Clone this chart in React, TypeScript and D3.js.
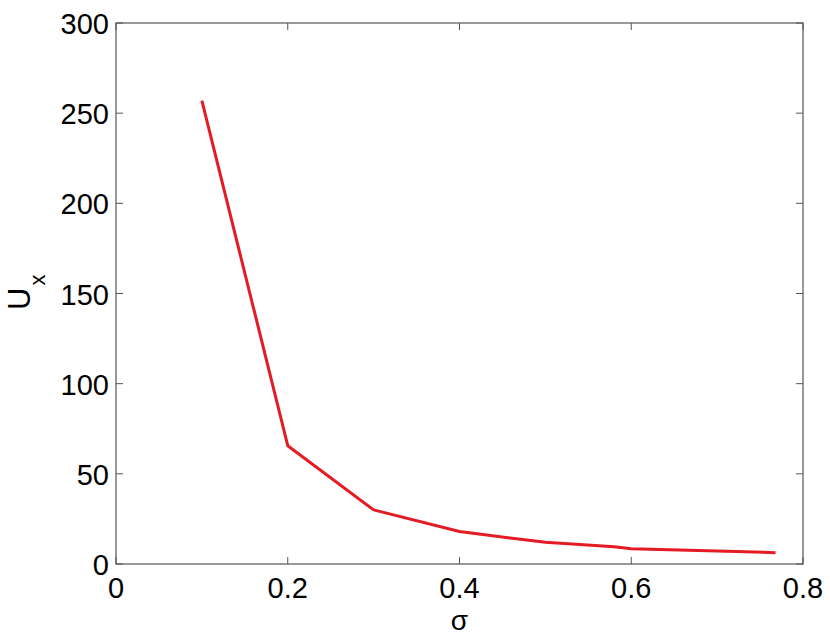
import React, { useRef, useEffect } from 'react';
import * as d3 from 'd3';

// sigma values and the matching U_x readings
const sigma = [0.1, 0.2, 0.3, 0.4, 0.5, 0.58, 0.6, 0.7, 0.768];
const ux = [257, 65.6, 30, 18, 12, 9.6, 8.4, 7.2, 6.3];
const xTicks = [0, 0.2, 0.4, 0.6, 0.8];
const yTicks = [0, 50, 100, 150, 200, 250, 300];

const width = 830;
const height = 639;
const margin = { top: 23, right: 27, bottom: 75, left: 116 };
const font = 'Helvetica, "Liberation Sans", Arial, sans-serif';
const axisColor = '#555';
const tickLen = 7;

const App = () => {
  const ref = useRef<SVGSVGElement | null>(null);

  useEffect(() => {
    const svg = d3.select(ref.current);
    svg.selectAll('*').remove();

    const x = d3
      .scaleLinear()
      .domain([0, 0.8])
      .range([margin.left, width - margin.right]);
    const y = d3
      .scaleLinear()
      .domain([0, 300])
      .range([height - margin.bottom, margin.top]);

    const x0 = x.range()[0];
    const x1 = x.range()[1];
    const y0 = y.range()[0];
    const y1 = y.range()[1];

    // box
    svg
      .append('rect')
      .attr('x', x0)
      .attr('y', y1)
      .attr('width', x1 - x0)
      .attr('height', y0 - y1)
      .attr('fill', 'none')
      .attr('stroke', axisColor)
      .attr('stroke-width', 1.2);

    // inward ticks on all four sides
    const ticks = svg.append('g').attr('stroke', axisColor).attr('stroke-width', 1);
    xTicks.forEach(t => {
      ticks.append('line').attr('x1', x(t)).attr('x2', x(t)).attr('y1', y0).attr('y2', y0 - tickLen);
      ticks.append('line').attr('x1', x(t)).attr('x2', x(t)).attr('y1', y1).attr('y2', y1 + tickLen);
    });
    yTicks.forEach(t => {
      ticks.append('line').attr('x1', x0).attr('x2', x0 + tickLen).attr('y1', y(t)).attr('y2', y(t));
      ticks.append('line').attr('x1', x1).attr('x2', x1 - tickLen).attr('y1', y(t)).attr('y2', y(t));
    });

    // tick labels
    svg
      .append('g')
      .selectAll('text')
      .data(xTicks)
      .enter()
      .append('text')
      .attr('x', d => x(d))
      .attr('y', y0 + 34)
      .attr('text-anchor', 'middle')
      .style('font-family', font)
      .style('font-size', '29px')
      .text(d => String(d));

    svg
      .append('g')
      .selectAll('text')
      .data(yTicks)
      .enter()
      .append('text')
      .attr('x', x0 - 7)
      .attr('y', d => y(d) + 11)
      .attr('text-anchor', 'end')
      .style('font-family', font)
      .style('font-size', '29px')
      .text(d => String(d));

    // line
    const line = d3
      .line<number>()
      .x((d, i) => x(sigma[i]))
      .y(d => y(d));

    svg
      .append('path')
      .datum(ux)
      .attr('d', line)
      .attr('fill', 'none')
      .attr('stroke', '#e41b23')
      .attr('stroke-width', 3)
      .attr('stroke-linejoin', 'round');

    // axis labels
    svg
      .append('text')
      .attr('x', x(0.4))
      .attr('y', 630)
      .attr('text-anchor', 'middle')
      .style('font-family', font)
      .style('font-size', '28px')
      .text('σ');

    const yl = svg
      .append('text')
      .attr('transform', 'translate(29.5, 310) rotate(-90)')
      .style('font-family', font)
      .style('font-size', '31px');
    yl.append('tspan').text('U');
    yl.append('tspan').attr('dx', 2).attr('dy', 15).style('font-size', '22px').text('x');
  }, []);

  return <svg ref={ref} width={width} height={height} style={{ display: 'block', position: 'absolute', left: 0, top: 0, background: '#fff' }} />;
};

export default App;
